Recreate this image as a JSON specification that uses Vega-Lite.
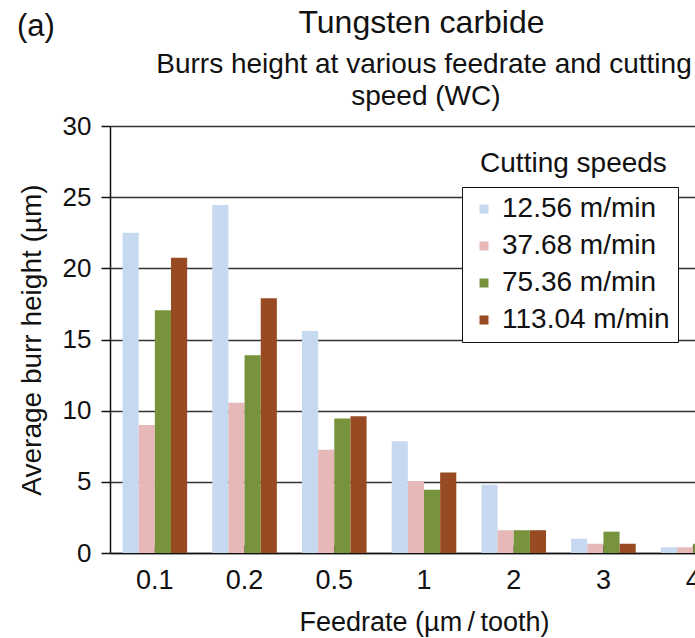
{
  "$schema": "https://vega.github.io/schema/vega-lite/v6.json",
  "width": 628,
  "height": 427,
  "autosize": {"type": "none"},
  "padding": {"left": 110, "top": 126, "right": 0, "bottom": 85},
  "background": "white",
  "config": {
    "font": "Liberation Sans",
    "view": {"stroke": null},
    "text": {"font": "Liberation Sans"}
  },
  "layer": [
    {
      "data": {
        "values": [
          {"feedrate": "0.1", "speed": "12.56 m/min", "height": 22.5},
          {"feedrate": "0.1", "speed": "37.68 m/min", "height": 9.0},
          {"feedrate": "0.1", "speed": "75.36 m/min", "height": 17.05},
          {"feedrate": "0.1", "speed": "113.04 m/min", "height": 20.75},
          {"feedrate": "0.2", "speed": "12.56 m/min", "height": 24.45},
          {"feedrate": "0.2", "speed": "37.68 m/min", "height": 10.55},
          {"feedrate": "0.2", "speed": "75.36 m/min", "height": 13.9},
          {"feedrate": "0.2", "speed": "113.04 m/min", "height": 17.9},
          {"feedrate": "0.5", "speed": "12.56 m/min", "height": 15.6},
          {"feedrate": "0.5", "speed": "37.68 m/min", "height": 7.25},
          {"feedrate": "0.5", "speed": "75.36 m/min", "height": 9.45},
          {"feedrate": "0.5", "speed": "113.04 m/min", "height": 9.6},
          {"feedrate": "1", "speed": "12.56 m/min", "height": 7.85},
          {"feedrate": "1", "speed": "37.68 m/min", "height": 5.05},
          {"feedrate": "1", "speed": "75.36 m/min", "height": 4.45},
          {"feedrate": "1", "speed": "113.04 m/min", "height": 5.65},
          {"feedrate": "2", "speed": "12.56 m/min", "height": 4.8},
          {"feedrate": "2", "speed": "37.68 m/min", "height": 1.6},
          {"feedrate": "2", "speed": "75.36 m/min", "height": 1.6},
          {"feedrate": "2", "speed": "113.04 m/min", "height": 1.6},
          {"feedrate": "3", "speed": "12.56 m/min", "height": 1.0},
          {"feedrate": "3", "speed": "37.68 m/min", "height": 0.65},
          {"feedrate": "3", "speed": "75.36 m/min", "height": 1.5},
          {"feedrate": "3", "speed": "113.04 m/min", "height": 0.65},
          {"feedrate": "4", "speed": "12.56 m/min", "height": 0.4},
          {"feedrate": "4", "speed": "37.68 m/min", "height": 0.4},
          {"feedrate": "4", "speed": "75.36 m/min", "height": 0.65},
          {"feedrate": "4", "speed": "113.04 m/min", "height": 0.5}
        ]
      },
      "mark": {"type": "bar"},
      "encoding": {
        "x": {
          "field": "feedrate",
          "type": "nominal",
          "sort": ["0.1", "0.2", "0.5", "1", "2", "3", "4"],
          "scale": {"paddingInner": 0.28, "paddingOuter": 0.14},
          "axis": {
            "title": "Feedrate (µm\u2009/\u2009tooth)",
            "titleFont": "Liberation Sans",
            "titleFontSize": 27,
            "titleFontWeight": "normal",
            "titleColor": "#111",
            "titleBaseline": "alphabetic",
            "titleY": 77,
            "labelAngle": 0,
            "labelFont": "Liberation Sans",
            "labelFontSize": 27,
            "labelColor": "#111",
            "labelBaseline": "alphabetic",
            "labelPadding": 43,
            "tickSize": -8,
            "tickColor": "#111",
            "tickWidth": 1.5,
            "domainColor": "#111",
            "domainWidth": 1.5,
            "grid": false
          }
        },
        "xOffset": {
          "field": "speed",
          "type": "nominal",
          "sort": ["12.56 m/min", "37.68 m/min", "75.36 m/min", "113.04 m/min"]
        },
        "y": {
          "field": "height",
          "type": "quantitative",
          "scale": {"domain": [0, 30]},
          "axis": {
            "title": "Average burr height (µm)",
            "titleFont": "Liberation Sans",
            "titleFontSize": 28,
            "titleFontWeight": "normal",
            "titleColor": "#111",
            "titleBaseline": "alphabetic",
            "titleX": -70,
            "values": [0, 5, 10, 15, 20, 25, 30],
            "labelFont": "Liberation Sans",
            "labelFontSize": 26,
            "labelColor": "#111",
            "labelPadding": 10,
            "tickSize": 9,
            "tickColor": "#111",
            "tickWidth": 1.5,
            "domainColor": "#111",
            "domainWidth": 1.5,
            "grid": true,
            "gridColor": "#333333",
            "gridWidth": 1.6
          }
        },
        "color": {
          "field": "speed",
          "type": "nominal",
          "sort": ["12.56 m/min", "37.68 m/min", "75.36 m/min", "113.04 m/min"],
          "scale": {
            "domain": ["12.56 m/min", "37.68 m/min", "75.36 m/min", "113.04 m/min"],
            "range": ["#c6d9f1", "#e6b9b8", "#77933c", "#984b22"]
          },
          "legend": {
            "title": null,
            "orient": "none",
            "legendX": 352,
            "legendY": 61,
            "direction": "vertical",
            "symbolType": "square",
            "symbolSize": 81,
            "symbolStrokeWidth": 0,
            "symbolOffset": 0,
            "labelOffset": 4,
            "labelFont": "Liberation Sans",
            "labelFontSize": 28,
            "labelColor": "#111",
            "labelLimit": 400,
            "rowPadding": 9,
            "padding": 8,
            "strokeColor": "#111",
            "fillColor": "white"
          }
        }
      }
    },
    {
      "data": {"values": [{}]},
      "mark": {"type": "text", "text": "(a)", "fontSize": 31, "align": "center", "baseline": "alphabetic", "color": "#111", "clip": false},
      "encoding": {
        "x": {"datum": -0.118, "type": "quantitative", "scale": {"domain": [0, 1]}, "axis": null},
        "y": {"datum": 36.3, "type": "quantitative", "scale": {"domain": [0, 30]}, "axis": null}
      }
    },
    {
      "data": {"values": [{}]},
      "mark": {"type": "text", "text": "Tungsten carbide", "fontSize": 32, "align": "center", "baseline": "alphabetic", "color": "#111", "clip": false},
      "encoding": {
        "x": {"datum": 0.496, "type": "quantitative", "scale": {"domain": [0, 1]}, "axis": null},
        "y": {"datum": 36.53, "type": "quantitative", "scale": {"domain": [0, 30]}, "axis": null}
      }
    },
    {
      "data": {"values": [{}]},
      "mark": {"type": "text", "text": "Burrs height at various feedrate and cutting", "fontSize": 28, "align": "center", "baseline": "alphabetic", "color": "#111", "clip": false},
      "encoding": {
        "x": {"datum": 0.5, "type": "quantitative", "scale": {"domain": [0, 1]}, "axis": null},
        "y": {"datum": 33.75, "type": "quantitative", "scale": {"domain": [0, 30]}, "axis": null}
      }
    },
    {
      "data": {"values": [{}]},
      "mark": {"type": "text", "text": "speed (WC)", "fontSize": 28, "align": "center", "baseline": "alphabetic", "color": "#111", "clip": false},
      "encoding": {
        "x": {"datum": 0.503, "type": "quantitative", "scale": {"domain": [0, 1]}, "axis": null},
        "y": {"datum": 31.5, "type": "quantitative", "scale": {"domain": [0, 30]}, "axis": null}
      }
    },
    {
      "data": {"values": [{}]},
      "mark": {"type": "text", "text": "Cutting speeds", "fontSize": 28, "align": "center", "baseline": "alphabetic", "color": "#111", "clip": false},
      "encoding": {
        "x": {"datum": 0.738, "type": "quantitative", "scale": {"domain": [0, 1]}, "axis": null},
        "y": {"datum": 26.77, "type": "quantitative", "scale": {"domain": [0, 30]}, "axis": null}
      }
    }
  ],
  "resolve": {"scale": {"x": "independent", "y": "independent"}}
}
